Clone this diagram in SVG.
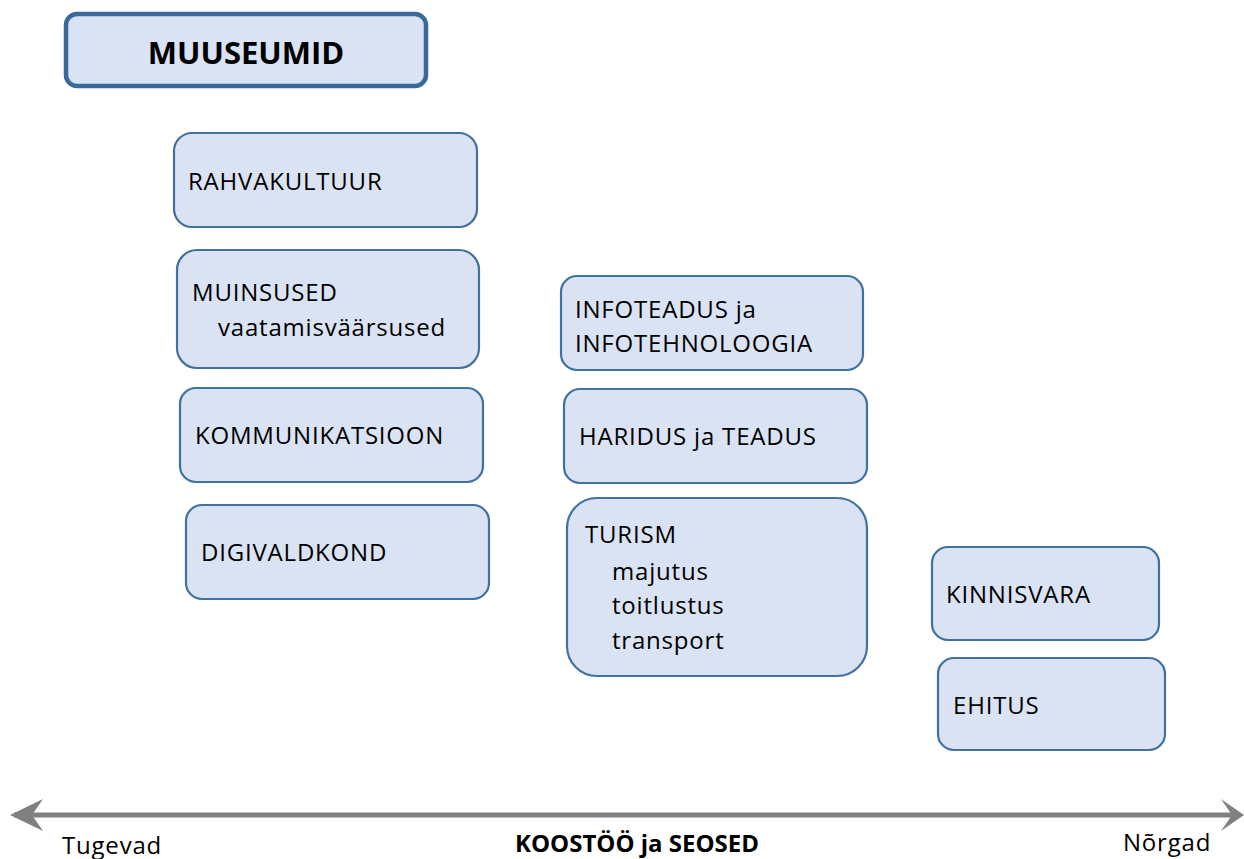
<svg xmlns="http://www.w3.org/2000/svg" width="1244" height="859" viewBox="0 0 1244 859">
<style>
.n{fill:#dae3f3;stroke:#41719c;stroke-width:2.2}
.t{font-family:"Open Sans","Liberation Sans",sans-serif;font-size:24px;letter-spacing:0.8px;fill:#000}
.b{font-family:"Open Sans","Liberation Sans",sans-serif;font-weight:bold;fill:#000}
.ax{stroke:#808080;stroke-width:5;fill:none}
</style>
<rect width="1244" height="859" fill="#fff"/>
<g id="muuseumid"><rect x="66" y="14" width="360" height="72" rx="11" fill="#dae3f3" stroke="#3a6899" stroke-width="4.5"/><text class="b" x="246" y="64" font-size="31" text-anchor="middle">MUUSEUMID</text></g>
<g id="rahvakultuur"><rect class="n" x="174" y="133" width="303" height="94" rx="18"/><text class="t" x="188" y="190">RAHVAKULTUUR</text></g>
<g id="muinsused"><rect class="n" x="177" y="250" width="302" height="118" rx="20"/><text class="t" x="192" y="301">MUINSUSED</text><text class="t" x="218" y="336">vaatamisväärsused</text></g>
<g id="kommunikatsioon"><rect class="n" x="180" y="388" width="303" height="94" rx="16"/><text class="t" x="195" y="444">KOMMUNIKATSIOON</text></g>
<g id="digivaldkond"><rect class="n" x="186" y="505" width="303" height="94" rx="16"/><text class="t" x="201" y="561">DIGIVALDKOND</text></g>
<g id="infoteadus"><rect class="n" x="561" y="276" width="302" height="94" rx="16"/><text class="t" x="575" y="318">INFOTEADUS ja</text><text class="t" x="575" y="352">INFOTEHNOLOOGIA</text></g>
<g id="haridus"><rect class="n" x="564" y="389" width="303" height="94" rx="16"/><text class="t" x="579" y="445">HARIDUS ja TEADUS</text></g>
<g id="turism"><rect class="n" x="567" y="498" width="300" height="178" rx="30"/><text class="t" x="585" y="543">TURISM</text><text class="t" x="612" y="580">majutus</text><text class="t" x="612" y="614">toitlustus</text><text class="t" x="612" y="649">transport</text></g>
<g id="kinnisvara"><rect class="n" x="932" y="547" width="227" height="93" rx="16"/><text class="t" x="946" y="603">KINNISVARA</text></g>
<g id="ehitus"><rect class="n" x="938" y="658" width="227" height="92" rx="16"/><text class="t" x="953" y="714">EHITUS</text></g>
<g id="connectors">
<line class="ax" x1="14" y1="815" x2="1238" y2="815"/>
<path d="M10 815 L43 799 L32 815 L43 831 Z" fill="#808080"/>
<path d="M1244 815 L1221 799 L1232 815 L1221 831 Z" fill="#808080"/>
</g>
<text class="t" x="62" y="854">Tugevad</text>
<text class="b" x="637" y="852" font-size="24" text-anchor="middle">KOOSTÖÖ ja SEOSED</text>
<text class="t" x="1123" y="851">Nõrgad</text>
</svg>
